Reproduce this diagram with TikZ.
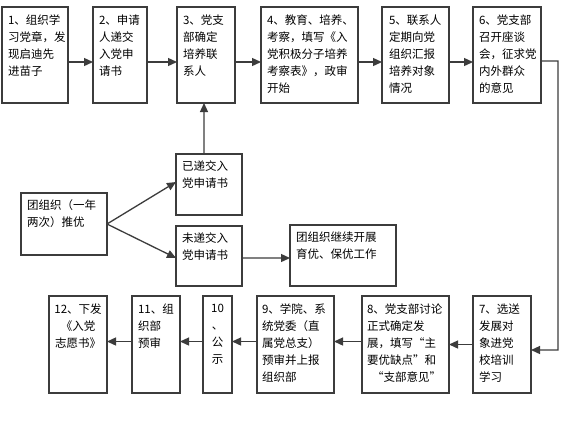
\documentclass[tikz,border=0pt]{standalone}
\usepackage{fontspec}
\newfontfamily\cjk{Noto Sans CJK SC}
\usetikzlibrary{arrows.meta}
\definecolor{ln}{RGB}{60,60,60}
\tikzset{
  box/.style={draw=ln, line width=1.3bp, inner sep=0pt, outer sep=0pt, anchor=north west},
  txt/.style={inner sep=0pt, outer sep=0pt, anchor=north west, align=left, text=black,
    font=\cjk\fontsize{11.5bp}{17bp}\selectfont},
  ctxt/.style={txt, align=center, anchor=north},
  arr/.style={draw=ln, line width=1.3bp, -{Triangle[length=9bp,width=8bp]}}
}
% \bx{name}{x1}{y1}{x2}{y2}
\newcommand\bx[5]{\node[box, minimum width={(#4-#2)*1bp}, minimum height={(#5-#3)*1bp}] (#1) at (#2,#3) {};}
\begin{document}
\begin{tikzpicture}[x=1bp,y=-1bp]
\useasboundingbox[fill=white] (0,0) rectangle (568,422);
% top row
\bx{b1}{2}{7}{68}{103}
\bx{b2}{93}{7}{147}{103}
\bx{b3}{177}{7}{235}{103}
\bx{b4}{261}{7}{358}{103}
\bx{b5}{382}{7}{449}{103}
\bx{b6}{473}{7}{541}{103}
\node[txt] (t1) at (8,15) {1、组织学\\习党章，发\\现启迪先\\进苗子};
\node[txt] (t2) at (99,15) {2、申请\\人递交\\入党申\\请书};
\node[txt] (t3) at (183,15) {3、党支\\部确定\\培养联\\系人};
\node[txt] (t4) at (267,15) {4、教育、培养、\\考察，填写《入\\党积极分子培养\\考察表》，政审\\开始};
\node[txt] (t5) at (389,15) {5、联系人\\定期向党\\组织汇报\\培养对象\\情况};
\node[txt] (t6) at (479,15) {6、党支部\\召开座谈\\会，征求党\\内外群众\\的意见};
% middle
\bx{m1}{176}{154}{242}{215}
\bx{m2}{176}{226}{242}{286}
\bx{m0}{21}{193}{107}{255}
\bx{m3}{290}{225}{396}{286}
\node[txt] (tm1) at (182,161) {已递交入\\党申请书};
\node[txt] (tm2) at (182,233) {未递交入\\党申请书};
\node[txt] (tm0) at (27,200) {团组织（一年\\两次）推优};
\node[txt] (tm3) at (296,232) {团组织继续开展\\育优、保优工作};
% bottom row
\bx{b7}{473}{296}{531}{393}
\bx{b8}{362}{296}{449}{393}
\bx{b9}{257}{296}{334}{393}
\bx{b10}{203}{296}{232}{393}
\bx{b11}{132}{296}{180}{393}
\bx{b12}{49}{296}{107}{393}
\node[txt] (t7) at (479,304) {7、选送\\发展对\\象进党\\校培训\\学习};
\node[txt] (t8) at (367,304) {8、党支部讨论\\正式确定发\\展，填写“主\\要优缺点”和\\\ \ “支部意见”};
\node[txt] (t9) at (262,304) {9、学院、系\\统党委（直\\属党总支）\\预审并上报\\组织部};
\node[ctxt] (t10) at (217.5,304) {10\\、\\公\\示};
\node[txt] (t11) at (138,304) {11、组\\织部\\预审};
\node[ctxt] (t12) at (78,304) {12、下发\\《入党\\志愿书》};
% connectors
\foreach \a/\b in {b1/b2,b2/b3,b3/b4,b4/b5,b5/b6}
  \draw[arr] ([yshift=-7bp]\a.east) -- ([yshift=-7bp]\b.west);
\coordinate (c1) at (558,61);
\draw[arr] ([yshift=-6bp]b6.east) -- (c1) |- ([yshift=-5.5bp]b7.east);
\draw[arr] (b7.west) -- (b8.east);
\foreach \a/\b in {b8/b9,b9/b10,b10/b11,b11/b12}
  \draw[arr] ([yshift=3bp]\a.west) -- ([yshift=3bp]\b.east);
\draw[arr] (m0.east) -- ([yshift=-28bp]m1.north west);
\draw[arr] (m0.east) -- ([yshift=-32bp]m2.north west);
\draw[arr] ([xshift=-5bp]m1.north) -- ([xshift=-2bp]b3.south);
\draw[arr] ([yshift=-32bp]m2.north east) -- ([yshift=-33bp]m3.north west);
\end{tikzpicture}
\end{document}
